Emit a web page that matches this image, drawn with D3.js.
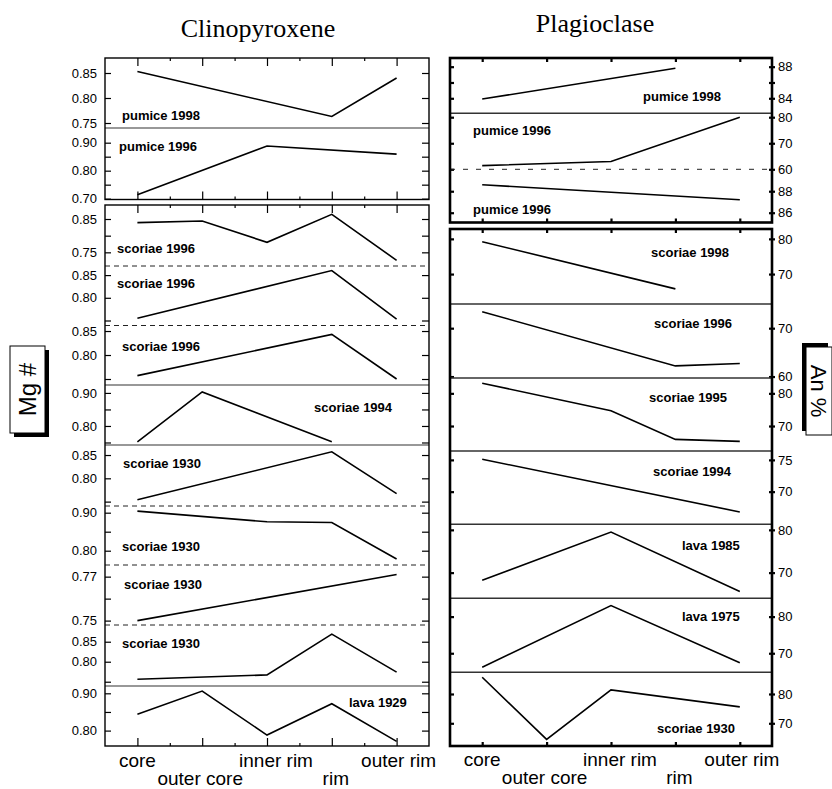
<!DOCTYPE html>
<html>
<head>
<meta charset="utf-8">
<script src="https://cdnjs.cloudflare.com/ajax/libs/d3/7.8.5/d3.min.js"></script>
<style>
  body { margin: 0; background: #fff; }
</style>
</head>
<body>
<div id="chart"></div>
<script>
// Categorias (posicion dentro del cristal)
const categories = ['core', 'outer core', 'inner rim', 'rim', 'outer rim'];

// Clinopiroxeno: Mg#
const cpxSamples = ['pumice 1998', 'pumice 1996', 'scoriae 1996', 'scoriae 1996', 'scoriae 1996',
  'scoriae 1994', 'scoriae 1930', 'scoriae 1930', 'scoriae 1930', 'scoriae 1930', 'lava 1929'];
const cpxMg = [
  [0.853, null, null, 0.763, 0.840],
  [0.714, null, 0.888, null, 0.859],
  [0.839, 0.844, 0.780, 0.864, 0.726],
  [0.755, null, null, 0.860, 0.753],
  [0.757, null, null, 0.843, 0.750],
  [0.752, 0.903, null, 0.752, null],
  [0.754, null, null, 0.857, 0.767],
  [0.904, null, 0.876, 0.874, 0.778],
  [0.750, null, null, null, 0.771],
  [0.756, null, 0.767, 0.869, 0.774],
  [0.844, 0.906, 0.788, 0.872, 0.771]
];
const cpxDomains = [
  [0.74, 0.88], [0.697, 0.9525], [0.709, 0.892], [0.739, 0.870], [0.7375, 0.8615],
  [0.7424, 0.924], [0.7406, 0.8715], [0.7624, 0.9176], [0.748, 0.7753], [0.7393, 0.8918], [0.7587, 0.9196]
];
const cpxTicks = [
  [0.85, 0.80, 0.75], [0.90, 0.85, 0.80, 0.75, 0.70], [0.85, 0.80, 0.75], [0.85, 0.80, 0.75],
  [0.85, 0.80, 0.75], [0.90, 0.85, 0.80, 0.75], [0.85, 0.80, 0.75], [0.90, 0.85, 0.80],
  [0.77, 0.76, 0.75], [0.85, 0.80, 0.75], [0.90, 0.85, 0.80]
];
const cpxTickLabels = [
  [0.85, 0.80, 0.75], [0.90, 0.80, 0.70], [0.85, 0.75], [0.85, 0.80], [0.85, 0.80],
  [0.90, 0.80], [0.85, 0.80], [0.90, 0.80], [0.77, 0.75], [0.85, 0.80], [0.90, 0.80]
];

// Plagioclasa: An %
const plgSamples = ['pumice 1998', 'pumice 1996', 'pumice 1996', 'scoriae 1998', 'scoriae 1996',
  'scoriae 1995', 'scoriae 1994', 'lava 1985', 'lava 1975', 'scoriae 1930'];
const plgAn = [
  [83.9, null, null, 87.8, null],
  [61.4, null, 63.0, null, 80.0],
  [88.6, null, null, null, 87.2],
  [79.2, null, null, 65.8, null],
  [73.4, null, null, 62.2, 62.7],
  [83.1, null, 74.7, 65.9, 65.3],
  [75.1, null, null, null, 66.8],
  [68.2, null, 79.5, null, 65.6],
  [66.2, null, 83.0, null, 67.4],
  [85.7, 64.5, 81.4, null, 75.6]
];
const plgDomains = [
  [82.1, 89.1], [60, 81.5], [85.09, 90.04], [61.5, 82.8], [59.7, 75.0],
  [62.35, 84.7], [64.86, 76.4], [64.0, 81.3], [64.8, 85.0], [62.25, 87.4]
];
const plgTicks = [[88, 86, 84], [80, 70, 60], [88, 86], [80, 70], [70, 60], [80, 70], [75, 70], [80, 70], [80, 70], [80, 70]];
const plgTickLabels = [[88, 84], [80, 70, 60], [88, 86], [80, 70], [70, 60], [80, 70], [75, 70], [80, 70], [80, 70], [80, 70]];

const W = 832, H = 789;
const FONT = '"Liberation Sans", Arial, Helvetica, sans-serif';
const SERIF = '"Liberation Serif", "Times New Roman", serif';

const svg = d3.select('#chart').append('svg')
  .attr('width', W).attr('height', H)
  .style('font-family', FONT);

// Layout de cada columna
const cpxLayout = {
  left: 105, right: 429, frameWidth: 1.4, sepWidth: 1.2,
  groups: [[58, 199.5], [205, 746]],
  edges: [[58, 128], [128, 199.5], [205, 266], [266, 325.5], [325.5, 385], [385, 445],
          [445, 506], [506, 565], [565, 625], [625, 686], [686, 746]],
  dashed: [3, 4, 7, 8, 9],
  labelPos: [[122, 115], [119, 146], [117, 248], [117, 283], [122, 346], [314, 407],
             [123, 463], [122, 546], [124, 584], [122, 643], [349, 702]],
  catRows: [767, 785],
  side: 'left'
};
const plgLayout = {
  left: 450, right: 772, frameWidth: 2.6, sepWidth: 1.6,
  groups: [[58, 222.5], [229, 746]],
  edges: [[58, 113.3], [113.3, 169.3], [169.3, 222.5], [229, 304], [304, 378], [378, 451],
          [451, 524.3], [524.3, 598.3], [598.3, 672.3], [672.3, 746]],
  dashed: [2],
  labelPos: [[643, 96], [473, 130], [473, 209], [651, 252], [654, 323], [649, 397],
             [653, 471], [682, 545], [682, 616], [657, 728]],
  catRows: [766, 784],
  side: 'right'
};
const catDx = [0, -2, 9, 4, 2];

function drawColumn(L, values, domains, ticks, tickLabels, samples, fmt) {
  const g = svg.append('g');
  const x = d3.scaleLinear().domain([-0.5, categories.length - 0.5]).range([L.left, L.right]);
  const isLeft = L.side === 'left';

  L.edges.forEach((e, i) => {
    const y = d3.scaleLinear().domain(domains[i]).range([e[1], e[0]]);

    // Eje Y
    if (isLeft) {
      g.append('g').attr('transform', 'translate(' + L.left + ',0)')
        .call(d3.axisLeft(y).tickValues(ticks[i]).tickSizeInner(-6).tickSizeOuter(0).tickPadding(8)
          .tickFormat(d => tickLabels[i].includes(d) ? fmt(d) : ''))
        .call(a => a.select('.domain').remove());
      g.append('g').attr('transform', 'translate(' + L.right + ',0)')
        .call(d3.axisRight(y).tickValues(ticks[i]).tickSizeInner(-7).tickSizeOuter(0).tickFormat(''))
        .call(a => a.select('.domain').remove());
    } else {
      g.append('g').attr('transform', 'translate(' + L.left + ',0)')
        .call(d3.axisLeft(y).tickValues(ticks[i]).tickSizeInner(-4).tickSizeOuter(0).tickFormat(''))
        .call(a => a.select('.domain').remove());
      g.append('g').attr('transform', 'translate(' + (L.right - 3) + ',0)')
        .call(d3.axisRight(y).tickValues(ticks[i]).tickSizeInner(6).tickSizeOuter(0).tickPadding(3)
          .tickFormat(d => tickLabels[i].includes(d) ? fmt(d) : ''))
        .call(a => a.select('.domain').remove());
    }

    // Linea
    const pts = values[i].map((v, j) => [j, v]).filter(d => d[1] != null);
    g.append('path')
      .attr('d', d3.line().x(d => x(d[0])).y(d => y(d[1]))(pts))
      .attr('fill', 'none').attr('stroke', '#000').attr('stroke-width', 1.6)
      .attr('stroke-linejoin', 'miter');

    // Etiqueta de la muestra
    g.append('text')
      .attr('x', L.labelPos[i][0]).attr('y', L.labelPos[i][1]).attr('dy', '0.35em')
      .attr('font-size', 13).attr('font-weight', 'bold')
      .text(samples[i]);

    // Separador
    if (i > 0 && L.edges[i][0] === L.edges[i - 1][1]) {
      g.append('line')
        .attr('x1', L.left).attr('x2', L.right).attr('y1', e[0]).attr('y2', e[0])
        .attr('stroke', L.dashed.includes(i) ? '#222' : '#333')
        .attr('stroke-width', L.dashed.includes(i) ? 1 : L.sepWidth)
        .attr('stroke-dasharray', L.dashed.includes(i) ? (isLeft ? '5,4' : '5,8') : null);
    }
  });

  // Marcos y ticks de categorias
  L.groups.forEach(gr => {
    g.append('g').attr('transform', 'translate(0,' + gr[0] + ')')
      .call(d3.axisTop(x).tickValues(d3.range(categories.length)).tickSizeInner(isLeft ? -8 : -4).tickSizeOuter(0).tickFormat(''))
      .call(a => a.select('.domain').remove());
    g.append('g').attr('transform', 'translate(0,' + gr[1] + ')')
      .call(d3.axisBottom(x).tickValues(d3.range(categories.length)).tickSizeInner(isLeft ? -8 : -4).tickSizeOuter(0).tickFormat(''))
      .call(a => a.select('.domain').remove());
    if (isLeft) {
      const mids = d3.range(categories.length - 1).map(j => j + 0.5);
      g.append('g').attr('transform', 'translate(0,' + gr[0] + ')')
        .call(d3.axisTop(x).tickValues(mids).tickSizeInner(-3).tickSizeOuter(0).tickFormat(''))
        .call(a => a.select('.domain').remove());
      g.append('g').attr('transform', 'translate(0,' + gr[1] + ')')
        .call(d3.axisBottom(x).tickValues(mids).tickSizeInner(-3).tickSizeOuter(0).tickFormat(''))
        .call(a => a.select('.domain').remove());
    }
    g.append('rect')
      .attr('x', L.left).attr('y', gr[0])
      .attr('width', L.right - L.left).attr('height', gr[1] - gr[0])
      .attr('fill', 'none').attr('stroke', '#000').attr('stroke-width', L.frameWidth);
  });
  g.selectAll('.tick line').attr('stroke', '#000').attr('stroke-width', isLeft ? 1.2 : 2.2);
  g.selectAll('.tick text').attr('font-size', 13).attr('fill', '#000').style('font-family', FONT);

  // Etiquetas de categorias (dos filas alternas)
  categories.forEach((c, j) => {
    g.append('text')
      .attr('x', x(j) + catDx[j]).attr('y', L.catRows[j % 2])
      .attr('text-anchor', 'middle').attr('font-size', 19)
      .text(c);
  });
}

drawColumn(cpxLayout, cpxMg, cpxDomains, cpxTicks, cpxTickLabels, cpxSamples, d3.format('.2f'));
drawColumn(plgLayout, plgAn, plgDomains, plgTicks, plgTickLabels, plgSamples, d3.format('d'));

// Titulos
svg.append('text').attr('x', 258).attr('y', 37).attr('text-anchor', 'middle')
  .attr('font-size', 26).style('font-family', SERIF).text('Clinopyroxene');
svg.append('text').attr('x', 595).attr('y', 32).attr('text-anchor', 'middle')
  .attr('font-size', 26).style('font-family', SERIF).text('Plagioclase');

// Etiquetas de ejes con sombra
function axisBox(bx, by, bw, bh, sx, sy, label, rot, size) {
  svg.append('rect').attr('x', bx + sx).attr('y', by + sy).attr('width', bw).attr('height', bh).attr('fill', '#000');
  svg.append('rect').attr('x', bx).attr('y', by).attr('width', bw).attr('height', bh)
    .attr('fill', '#fff').attr('stroke', '#000').attr('stroke-width', 1);
  const cx = bx + bw / 2, cy = by + bh / 2;
  svg.append('text')
    .attr('transform', 'translate(' + cx + ',' + cy + ') rotate(' + rot + ')')
    .attr('text-anchor', 'middle').attr('dy', '0.36em')
    .attr('font-size', size).text(label);
}
axisBox(10, 346, 35, 87, 4, 4, 'Mg #', -90, 24);
axisBox(806, 347, 26, 88, -4, -4, 'An %', 90, 22);
</script>
</body>
</html>
